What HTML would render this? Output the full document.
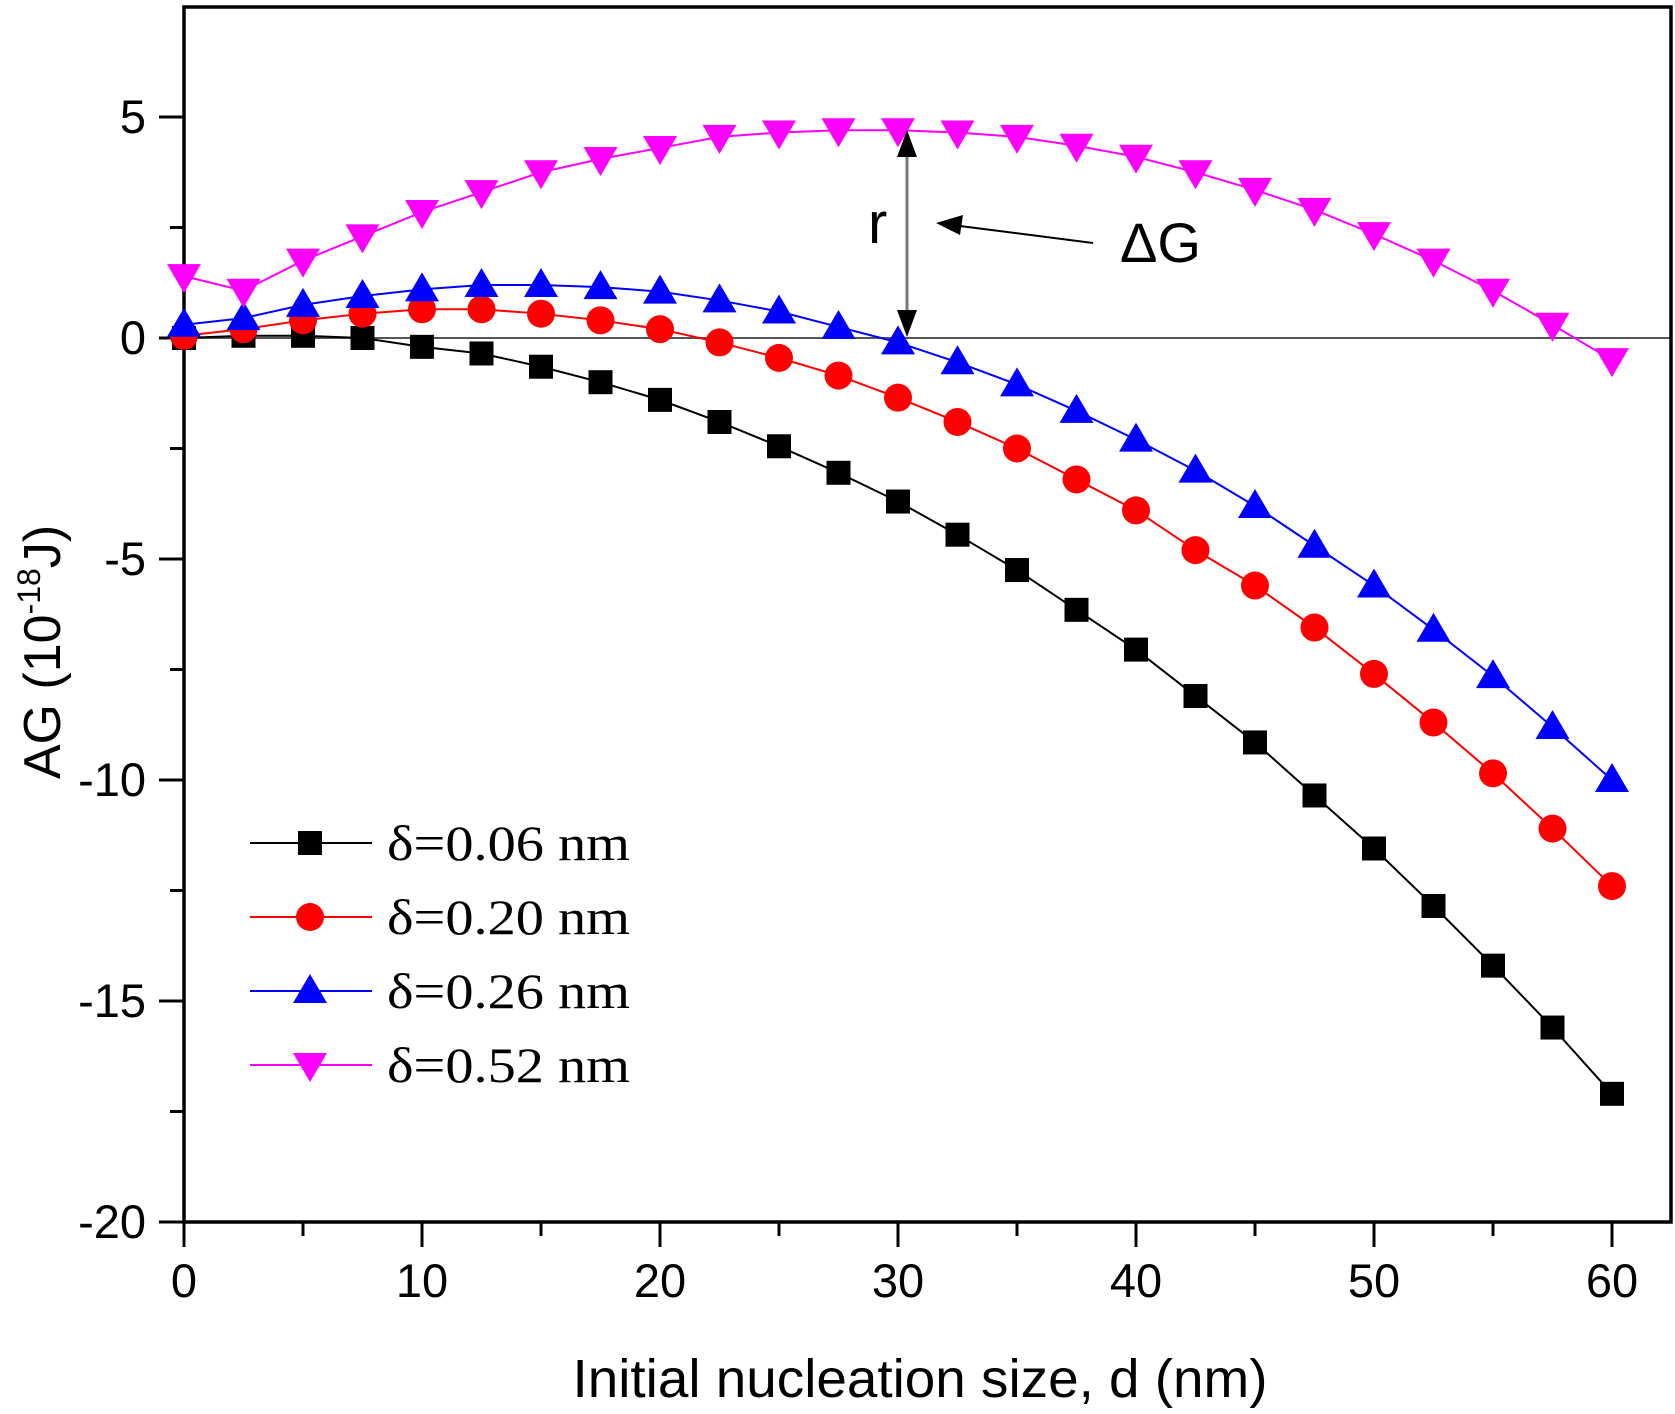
<!DOCTYPE html>
<html><head><meta charset="utf-8"><style>
html,body{margin:0;padding:0;background:#fff;}
svg{display:block;}
</style></head><body>
<svg id="chart" width="1675" height="1414" viewBox="0 0 1675 1414" xmlns="http://www.w3.org/2000/svg">
<g id="plot"></g>
</svg>
<script>
const xValues = [0,2.5,5,7.5,10,12.5,15,17.5,20,22.5,25,27.5,30,32.5,35,37.5,40,42.5,45,47.5,50,52.5,55,57.5,60];
const seriesBlack = [0,0.05,0.05,0,-0.2,-0.35,-0.65,-1,-1.4,-1.9,-2.45,-3.05,-3.7,-4.45,-5.25,-6.15,-7.05,-8.1,-9.15,-10.35,-11.55,-12.85,-14.2,-15.6,-17.1];
const seriesRed = [0.05,0.2,0.4,0.55,0.65,0.65,0.55,0.4,0.2,-0.1,-0.45,-0.85,-1.35,-1.9,-2.5,-3.2,-3.9,-4.8,-5.6,-6.55,-7.6,-8.7,-9.85,-11.1,-12.4];
const seriesBlue = [0.3,0.45,0.75,0.95,1.1,1.2,1.2,1.15,1.05,0.85,0.6,0.25,-0.1,-0.55,-1.05,-1.65,-2.3,-3.0,-3.8,-4.7,-5.6,-6.6,-7.65,-8.8,-10.0];
const seriesMagenta = [1.4,1.07,1.75,2.3,2.85,3.3,3.75,4.05,4.3,4.55,4.65,4.7,4.7,4.65,4.55,4.35,4.1,3.75,3.35,2.9,2.35,1.75,1.07,0.3,-0.5];
const xTickLabels = ["0","10","20","30","40","50","60"];
const yTickLabels = ["-20","-15","-10","-5","0","5"];
const legendLabels = ["δ=0.06 nm","δ=0.20 nm","δ=0.26 nm","δ=0.52 nm"];

const L=184,R=1671,T=7,B=1222;
const xS=v=>184+(v/60)*(1612-184);
const yS=v=>338-(v)*44.2;
const NS='http://www.w3.org/2000/svg';
const g=document.getElementById('plot');
function mk(tag,attrs,parent){const e=document.createElementNS(NS,tag);for(const k in attrs)e.setAttribute(k,attrs[k]);(parent||g).appendChild(e);return e;}

let e=mk('line',{x1:L,x2:R,y1:yS(0),y2:yS(0),stroke:'#555','stroke-width':2});



for(let v=-20;v<=5;v+=2.5){
  const maj=Math.abs(v%5)<1e-9;
  e=mk('line',{x1:L-(maj?25:14),x2:L,y1:yS(v),y2:yS(v),stroke:'#000','stroke-width':3});
  
  
}
yTickLabels.forEach(t=>{
  e=mk('text',{x:146,y:yS(parseFloat(t))+16,'text-anchor':'end','font-family':'Liberation Sans, sans-serif','font-size':47});
  e.textContent=t;
  
  
});
for(let v=0;v<=60;v+=5){
  const maj=v%10===0;
  e=mk('line',{x1:xS(v),x2:xS(v),y1:B,y2:B+(maj?25:14),stroke:'#000','stroke-width':3});
  
  
}
xTickLabels.forEach(t=>{
  e=mk('text',{x:xS(parseFloat(t)),y:1297,'text-anchor':'middle','font-family':'Liberation Sans, sans-serif','font-size':47});
  e.textContent=t;
  
  
});

e=mk('rect',{x:L,y:T,width:R-L,height:B-T,fill:'none',stroke:'#000','stroke-width':3.5});



function marker(type,x,y,color,parent){
  let m;
  if(type==='square') m=mk('rect',{x:x-12,y:y-12,width:24,height:24,fill:color},parent);
  else if(type==='circle') m=mk('circle',{cx:x,cy:y,r:14,fill:color},parent);
  else if(type==='up') m=mk('polygon',{points:`${x},${y-17} ${x-17},${y+12} ${x+17},${y+12}`,fill:color},parent);
  else m=mk('polygon',{points:`${x},${y+17} ${x-17},${y-12} ${x+17},${y-12}`,fill:color},parent);
  return m;
}
const series=[
  {name:'black',data:seriesBlack,color:'#000',m:'square'},
  {name:'red',data:seriesRed,color:'#f00',m:'circle'},
  {name:'blue',data:seriesBlue,color:'#00f',m:'up'},
  {name:'magenta',data:seriesMagenta,color:'#f0f',m:'down'}
];
series.forEach((s,si)=>{
  const sg=mk('g',{});
  
  
  const pts=xValues.map((x,i)=>xS(x)+','+yS(s.data[i])).join(' ');
  const pl=mk('polyline',{points:pts,fill:'none',stroke:s.color,'stroke-width':2},sg);
  
  
  xValues.forEach((x,i)=>{
    const m=marker(s.m,xS(x),yS(s.data[i]),s.color,sg);
    
    
  });
  const ly=843+si*74;
  const lg=mk('g',{});
  
  
  mk('line',{x1:250,x2:372,y1:ly,y2:ly,stroke:s.color,'stroke-width':2},lg);
  marker(s.m,310,ly,s.color,lg);
  const t=mk('text',{x:387,y:ly+17,'font-family':'Liberation Serif, serif','font-size':50,textLength:243,lengthAdjust:'spacingAndGlyphs'},lg);
  t.textContent=legendLabels[si];
});
</script>
<svg style="position:absolute;left:0;top:0" width="1675" height="1414" viewBox="0 0 1675 1414" xmlns="http://www.w3.org/2000/svg">
<g>
<line x1="907" y1="230" x2="907" y2="135" stroke="#777" stroke-width="3"/>
<polygon points="907,130 897,157 917,157" fill="#000"/>
<line x1="907" y1="226" x2="907" y2="332" stroke="#777" stroke-width="3"/>
<polygon points="907,337 897,310 917,310" fill="#000"/>
</g>
<text x="868" y="243" font-family="Liberation Sans, sans-serif" font-size="58">r</text>
<g>
<line x1="1093" y1="243" x2="960" y2="226" stroke="#000" stroke-width="2"/>
<polygon points="936,223 963,215 960,235" fill="#000"/>
</g>
<text x="1120" y="262" font-family="Liberation Sans, sans-serif" font-size="56">ΔG</text>
<text x="0" y="0" transform="translate(60,652) rotate(-90)" text-anchor="middle" font-family="Liberation Sans, sans-serif" font-size="52">AG (10<tspan dy="-20" font-size="32">-18</tspan><tspan dy="20">J)</tspan></text>
<text x="920" y="1397" text-anchor="middle" font-family="Liberation Sans, sans-serif" font-size="54" textLength="695" lengthAdjust="spacingAndGlyphs">Initial nucleation size, d (nm)</text>
</svg>
</body></html>
